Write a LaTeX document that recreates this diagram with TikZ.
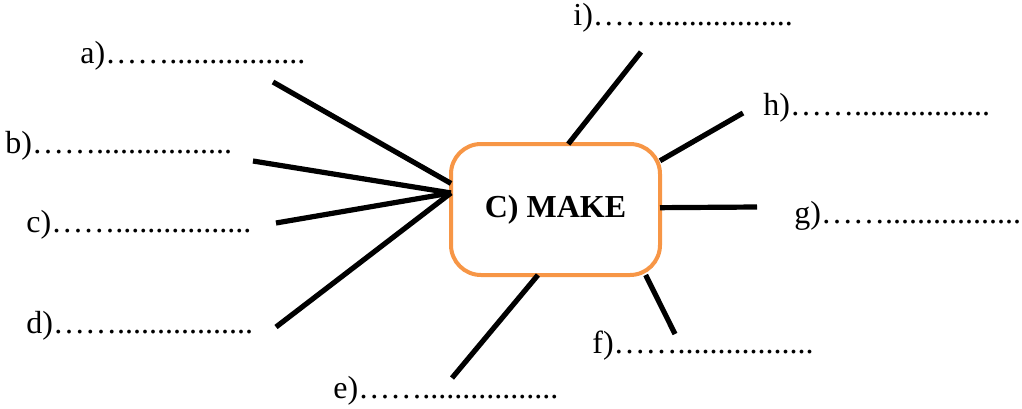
\documentclass[tikz,border=0pt]{standalone}
\usepackage{fontspec}
\setmainfont{Liberation Serif}
\usepackage{tikz}
\usetikzlibrary{arrows.meta, positioning, calc}
\usepackage{xcolor}
\definecolor{mapOrange}{HTML}{F79646}

\begin{document}
\begin{tikzpicture}[
    x=0.5pt, y=-0.5pt,
    hubbox/.style={draw=mapOrange, line width=2pt, rounded corners=15pt,
                   minimum width=104.5pt, minimum height=65.5pt,
                   inner sep=0pt, outer sep=0pt, fill=white,
                   font=\fontsize{16}{19}\selectfont\bfseries},
    spoke/.style={line width=2.6pt, black},
    blank/.style={anchor=base west, inner sep=0pt,
                  font=\fontsize{16}{19}\selectfont}
  ]
    \useasboundingbox (0,0) rectangle (1022,408);
    \node[hubbox] (box) at (555.5,209.5) {C) MAKE};
    % labels round the box
    \node[blank] (la) at (80,63)  {a)…….................};
    \node[blank] (lb) at (5,153)  {b)…….................};
    \node[blank] (lc) at (26,232) {c)…….................};
    \node[blank] (ld) at (26,333) {d)…….................};
    \node[blank] (le) at (333,398) {e)…….................};
    \node[blank] (lf) at (592,353) {f)…….................};
    \node[blank] (lg) at (794,223) {g)…….................};
    \node[blank] (lh) at (763,115) {h)…….................};
    \node[blank] (li) at (573,25) {i)…….................};
    % free ends of the spokes
    \coordinate (ea) at (273,82);
    \coordinate (eb) at (253,161);
    \coordinate (ec) at (276,223);
    \coordinate (ed) at (276,327);
    \coordinate (ee) at (452,378);
    \coordinate (ef) at (675,334);
    \coordinate (eg) at (757,207);
    \coordinate (eh) at (743,113);
    \coordinate (ei) at (641,52);
    \coordinate (hub) at (box.171);
    \draw[spoke] (ea) -- (box.166);
    \draw[spoke] (eb) -- (hub);
    \draw[spoke] (ec) -- (hub);
    \draw[spoke] (ed) -- (hub);
    \draw[spoke] (box.-105) -- (ee);
    \draw[spoke] (box.-36) -- (ef);
    \draw[spoke] (box.1) -- (eg);
    \draw[spoke] (box.25) -- (eh);
    \draw[spoke] (box.79) -- (ei);
  \end{tikzpicture}
\end{document}
